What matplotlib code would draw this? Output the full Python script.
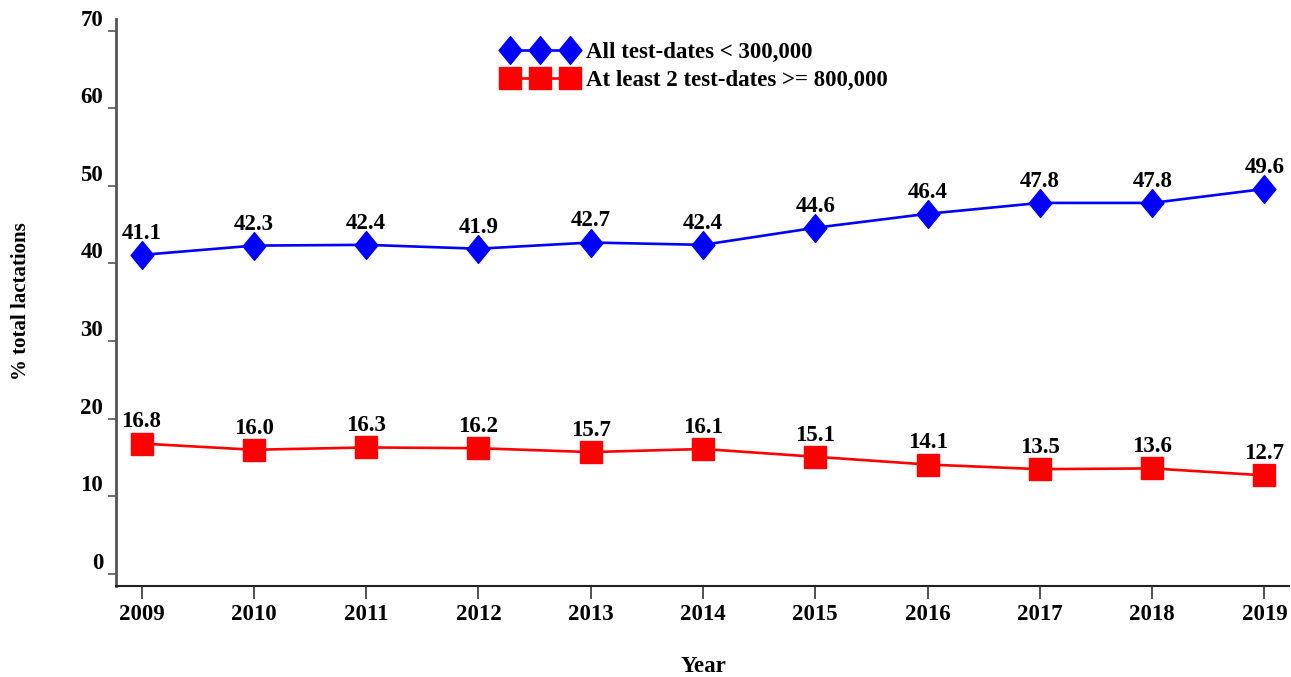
# % of lactations by test-day yield class, 2009-2019

import numpy as np
import matplotlib.pyplot as plt
from matplotlib.path import Path

plt.rcParams['font.family'] = ['Liberation Serif', 'DejaVu Serif']
plt.rcParams['font.weight'] = 'bold'

years = [2009, 2010, 2011, 2012, 2013, 2014, 2015, 2016, 2017, 2018, 2019]
low_yield = [41.1, 42.3, 42.4, 41.9, 42.7, 42.4, 44.6, 46.4, 47.8, 47.8, 49.6]
high_yield = [16.8, 16.0, 16.3, 16.2, 15.7, 16.1, 15.1, 14.1, 13.5, 13.6, 12.7]
low_label = 'All test-dates < 300,000'
high_label = 'At least 2 test-dates >= 800,000'
yticks = [0, 10, 20, 30, 40, 50, 60, 70]

# slightly narrow diamond like the original
diamond = Path([(-0.82, 0), (0, 1), (0.82, 0), (0, -1), (-0.82, 0)],
               [Path.MOVETO, Path.LINETO, Path.LINETO, Path.LINETO, Path.CLOSEPOLY])

fs = 16.5

fig = plt.figure(figsize=(12.91, 6.77), dpi=100)
ax = fig.add_axes([0.0896, 0.135, 0.909, 0.837])

ax.plot(years, low_yield, color='#0000ff', lw=1.9, marker=diamond, ms=20,
        mec='#0000ff', mfc='#0000ff', label=low_label)
ax.plot(years, high_yield, color='#ff0000', lw=1.9, marker='s', ms=15.5,
        mec='#ff0000', mfc='#ff0000', label=high_label)

for x, y in zip(years, low_yield):
    ax.annotate(f'{y:.1f}', (x, y), xytext=(0, 8), textcoords='offset points',
                ha='center', va='bottom', fontsize=fs, fontweight='bold')
for x, y in zip(years, high_yield):
    ax.annotate(f'{y:.1f}', (x, y), xytext=(0, 8), textcoords='offset points',
                ha='center', va='bottom', fontsize=fs, fontweight='bold')

ax.set_xlim(2008.77, 2019.22)
ax.set_ylim(-1.5, 71.5)
ax.set_xticks(years)
ax.set_xticklabels([str(y) for y in years], fontsize=fs, fontweight='bold')
ax.set_yticks(yticks)
ax.set_yticklabels([str(t) for t in yticks], fontsize=fs, fontweight='bold')
ax.tick_params(axis='x', direction='out', length=9.5, width=1.2, pad=4, color='#333333')
ax.tick_params(axis='y', direction='out', length=6, width=1.2, pad=3, color='#555555')
for tl in ax.get_yticklabels():
    tl.set_verticalalignment('bottom')

ax.spines['top'].set_visible(False)
ax.spines['right'].set_visible(False)
ax.spines['left'].set_color('#555555')
ax.spines['left'].set_linewidth(2)
ax.spines['bottom'].set_color('#222222')
ax.spines['bottom'].set_linewidth(1.5)

fig.text(0.016, 0.555, '% total lactations', rotation=90, ha='center', va='center',
         fontsize=15, fontweight='bold')
fig.text(0.545, 0.015, 'Year', ha='center', va='center', fontsize=fs, fontweight='bold')

ax.legend(loc='upper left', bbox_to_anchor=(0.381, 0.955), bbox_transform=fig.transFigure,
          frameon=False, numpoints=3, handlelength=3.2, handletextpad=0.4,
          labelspacing=0.3, borderpad=0, prop={'size': fs, 'weight': 'bold'})

fig.savefig('out.png', dpi=100)
